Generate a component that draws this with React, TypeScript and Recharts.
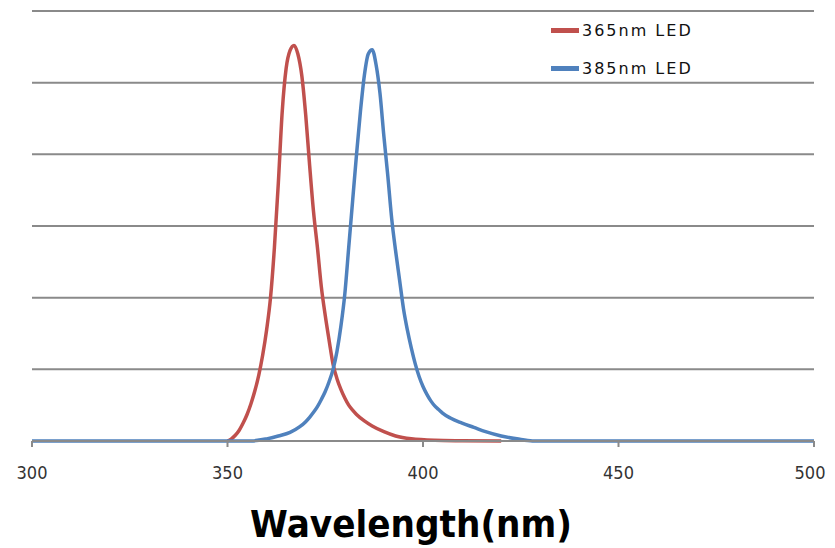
import { LineChart, Line, XAxis, YAxis, CartesianGrid } from 'recharts';

// wavelength (nm) and relative intensity
const redNm = [350, 351, 352, 353, 354, 355, 356, 357, 358, 359, 360, 361, 362, 363, 364, 365, 366, 367, 368, 369, 370, 371, 372, 373, 374, 375, 376, 377, 378, 379, 380, 381, 382, 383, 385, 387, 390, 393, 397, 403, 410, 420];
const redVal = [0, 0.03, 0.08, 0.15, 0.25, 0.37, 0.52, 0.7, 0.92, 1.2, 1.55, 2.0, 2.7, 3.6, 4.6, 5.2, 5.45, 5.52, 5.4, 5.1, 4.55, 3.85, 3.2, 2.7, 2.15, 1.75, 1.4, 1.07, 0.87, 0.72, 0.6, 0.5, 0.43, 0.37, 0.28, 0.21, 0.13, 0.07, 0.03, 0.01, 0.004, 0];

const blueNm = [300, 350, 356, 360, 363, 366, 368.5, 370, 371, 372, 373, 374, 375, 376, 377, 378, 379, 380, 381, 382, 383, 384, 385, 386, 387, 388, 389, 390, 391, 392, 393, 394, 395, 396, 397, 398, 399, 400, 401, 402, 403, 404, 405, 407, 410, 413, 416, 420, 424, 428, 500];
const blueVal = [0, 0, 0, 0.03, 0.07, 0.12, 0.2, 0.27, 0.33, 0.4, 0.48, 0.58, 0.69, 0.83, 1.0, 1.25, 1.6, 2.05, 2.7, 3.35, 4.0, 4.6, 5.1, 5.4, 5.46, 5.25, 4.85, 4.25, 3.7, 3.1, 2.65, 2.25, 1.85, 1.55, 1.3, 1.08, 0.9, 0.76, 0.65, 0.56, 0.49, 0.44, 0.39, 0.32, 0.25, 0.19, 0.13, 0.07, 0.03, 0, 0];

const seriesNames = ['365nm LED', '385nm LED'];
const seriesColors = ['#C0504D', '#4F81BD'];

const xTicks = [300, 350, 400, 450, 500];
const yTicks = [0, 1, 2, 3, 4, 5, 6];

const redData = redNm.map((nm, i) => ({ nm, v: redVal[i] }));
const blueData = blueNm.map((nm, i) => ({ nm, v: blueVal[i] }));

const font = '"DejaVu Sans", sans-serif';

function Tick({ x, y, payload }: any) {
  const last = payload.value === xTicks[xTicks.length - 1];
  return (
    <text x={last ? x - 4 : x} y={y + 30} textAnchor="middle" fill="#333" fontSize={18} fontFamily={font} textLength={31} lengthAdjust="spacingAndGlyphs">
      {payload.value}
    </text>
  );
}

function Title() {
  return (
    <text x={411} y={537} textAnchor="middle" fill="#000" fontSize={38} fontWeight="bold" fontFamily={font} textLength={322} lengthAdjust="spacingAndGlyphs">
      Wavelength(nm)
    </text>
  );
}

export default function App() {
  return (
    <div style={{ position: 'absolute', left: 0, top: 0, width: 835, height: 548, background: '#fff' }}>
      <style>{'body{margin:0}'}</style>
      <LineChart width={835} height={548} margin={{ top: 11, right: 21, left: 32, bottom: 17 }}>
        <CartesianGrid vertical={false} stroke="#8a8a8a" strokeWidth={2} />
        <XAxis
          dataKey="nm"
          type="number"
          domain={[300, 500]}
          ticks={xTicks}
          allowDuplicatedCategory={false}
          height={90}
          stroke="#8a8a8a"
          strokeWidth={2}
          tickSize={6}
          tick={<Tick />}
          label={<Title />}
        />
        <YAxis hide width={0} domain={[0, 6]} ticks={yTicks} />
        <Line data={redData} dataKey="v" name={seriesNames[0]} type="monotone" stroke={seriesColors[0]} strokeWidth={3.5} dot={false} isAnimationActive={false} />
        <Line data={blueData} dataKey="v" name={seriesNames[1]} type="monotone" stroke={seriesColors[1]} strokeWidth={3.5} dot={false} isAnimationActive={false} />
      </LineChart>
      <div style={{ position: 'absolute', left: 551, top: 11, fontFamily: font, fontSize: 16, letterSpacing: 2, color: '#111' }}>
        {seriesNames.map((n, i) => (
          <div key={n} style={{ display: 'flex', alignItems: 'center', height: 38 }}>
            <span style={{ display: 'inline-block', width: 28, height: 5, background: seriesColors[i], marginRight: 3 }} />
            <span>{n}</span>
          </div>
        ))}
      </div>
    </div>
  );
}
